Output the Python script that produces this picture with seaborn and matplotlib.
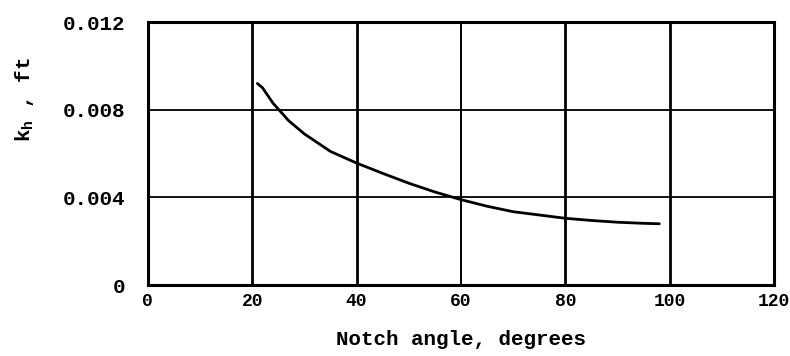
import matplotlib
matplotlib.use("Agg")
import matplotlib.pyplot as plt
import seaborn as sns
import pandas as pd

angle = [21, 22, 24, 27, 30, 35, 40, 45, 50, 55, 60, 65, 70, 75, 80, 85, 90, 95, 98]
kh = [0.0092, 0.0090, 0.0083, 0.0075, 0.0069, 0.0061, 0.00557, 0.0051, 0.00465, 0.00425,
      0.0039, 0.0036, 0.00335, 0.0032, 0.00305, 0.00295, 0.00287, 0.00282, 0.0028]
xticks = [0, 20, 40, 60, 80, 100, 120]
yticks = [0, 0.004, 0.008, 0.012]
ytick_labels = ["0", "0.004", "0.008", "0.012"]

sns.set_theme(style="white")
plt.rcParams['font.family'] = ['Liberation Mono', 'DejaVu Sans Mono']
plt.rcParams['font.weight'] = 'bold'
plt.rcParams['mathtext.fontset'] = 'custom'
plt.rcParams['mathtext.rm'] = 'Liberation Mono:bold'
plt.rcParams['mathtext.it'] = 'Liberation Mono:bold'
plt.rcParams['mathtext.bf'] = 'Liberation Mono:bold'

df = pd.DataFrame({"angle": angle, "kh": kh})

fig = plt.figure(figsize=(7.9, 3.56), dpi=100)
ax = fig.add_axes([0.187, 0.199, 0.793, 0.739])

for x in xticks:
    ax.axvline(x, color="black", lw=1.4 if x in (60,) else 2.0, zorder=1)
for y in yticks:
    ax.axhline(y, color="black", lw=1.3, zorder=1)

sns.lineplot(data=df, x="angle", y="kh", ax=ax, color="black", lw=2.0, zorder=3)

ax.set_xlim(0, 120)
ax.set_ylim(0, 0.012)
ax.set_xticks(xticks)
ax.set_xticklabels([str(t) for t in xticks])
ax.set_yticks(yticks)
ax.set_yticklabels(ytick_labels)
ax.tick_params(axis="x", length=0, labelsize=13, pad=6, colors="black")
ax.tick_params(axis="y", length=0, labelsize=15, pad=16, colors="black")
for s in ax.spines.values():
    s.set_color("black")
    s.set_linewidth(2.2)

ax.set_xlabel("Notch angle, degrees", fontsize=15, fontweight="bold", labelpad=14, color="black")
ax.set_ylabel("")
fig.text(25 / 790, 1 - 100 / 356, r"$\mathbf{k_h}$ , ft", fontsize=15, fontweight="bold",
         rotation=90, ha="center", va="center", color="black")

fig.savefig("out.png", dpi=100, facecolor="white")
